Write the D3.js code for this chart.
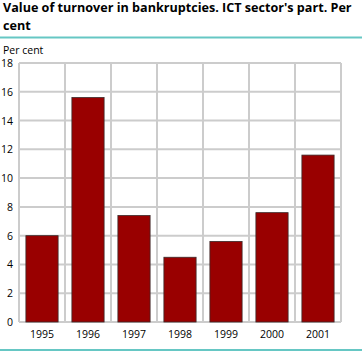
<!DOCTYPE html>
<html>
<head>
<meta charset="utf-8">
<script src="https://cdn.jsdelivr.net/npm/d3@7"></script>
<style>
  body { margin: 0; background: #fff; }
  text { font-family: "Open Sans", "DejaVu Sans", sans-serif; }
</style>
</head>
<body>
<div id="canvas"></div>
<script>
"use strict"

/* Data */
let years = ["1995", "1996", "1997", "1998", "1999", "2000", "2001"];
let values = [6.0, 15.6, 7.4, 4.5, 5.6, 7.6, 11.6];
let yTicks = [0, 2, 4, 6, 8, 10, 12, 14, 16, 18];

/* drawing size */
let svgWidth = 362;
let svgHeight = 351;
let leftMargin = 19
let rightMargin = 21
let topMargin = 63
let bottomMargin = 29

let svg = d3.select("#canvas")
    .append("svg")
    .attr("width", svgWidth)
    .attr("height", svgHeight);

/* title, two lines */
let titleLines = ["Value of turnover in bankruptcies. ICT sector's part. Per", "cent"];
for (let i = 0; i < titleLines.length; i++) {
    svg.append("text")
        .attr("x", 3)
        .attr("y", 12.3 + i * 17.2)
        .attr("font-size", "12.6px")
        .attr("font-weight", "bold")
        .attr("fill", "#000")
        .text(titleLines[i]);
}

/* teal rules top and bottom */
svg.append("rect")
    .attr("x", 0).attr("y", 36.5)
    .attr("width", svgWidth).attr("height", 2)
    .attr("fill", "#66c7c4");
svg.append("rect")
    .attr("x", 0).attr("y", 349)
    .attr("width", svgWidth).attr("height", 2)
    .attr("fill", "#66c7c4");

/* unit label */
svg.append("text")
    .attr("x", 3)
    .attr("y", 54)
    .attr("font-size", "10.5px")
    .text("Per cent");

let xScale = d3.scaleBand()
    .domain(years)
    .range([leftMargin, svgWidth - rightMargin])
    .paddingInner(0.3)
    .paddingOuter(0.15);

let yScale = d3.scaleLinear()
    .domain([0, 18])
    .range([svgHeight - bottomMargin, topMargin]);

/* horizontal gridlines */
svg.selectAll(".hgrid")
    .data(yTicks)
    .join("line")
    .attr("class", "hgrid")
    .attr("x1", leftMargin)
    .attr("x2", svgWidth - rightMargin)
    .attr("y1", d => yScale(d))
    .attr("y2", d => yScale(d))
    .attr("stroke", "#cccccc")
    .attr("stroke-width", 2);

/* vertical gridlines at band edges */
let edges = d3.range(years.length + 1).map(i => leftMargin + i * (svgWidth - rightMargin - leftMargin) / years.length);
svg.selectAll(".vgrid")
    .data(edges)
    .join("line")
    .attr("class", "vgrid")
    .attr("x1", d => d)
    .attr("x2", d => d)
    .attr("y1", yScale(18))
    .attr("y2", yScale(0))
    .attr("stroke", "#cccccc")
    .attr("stroke-width", 2);

/* bars */
svg.selectAll(".bar")
    .data(values)
    .join("rect")
    .attr("class", "bar")
    .attr("x", (d, i) => xScale(years[i]))
    .attr("y", d => yScale(d))
    .attr("width", xScale.bandwidth())
    .attr("height", d => yScale(0) - yScale(d))
    .attr("fill", "#990000")
    .attr("stroke", "#3a2a2a")
    .attr("stroke-width", 0.8);

/* y tick labels */
for (let i = 0; i < yTicks.length; i++) {
    svg.append("text")
        .attr("x", 13)
        .attr("y", yScale(yTicks[i]) + 4)
        .attr("text-anchor", "end")
        .attr("font-size", "10.5px")
        .text(yTicks[i]);
}

/* x tick labels */
for (let i = 0; i < years.length; i++) {
    svg.append("text")
        .attr("x", xScale(years[i]) + xScale.bandwidth() / 2)
        .attr("y", svgHeight - bottomMargin + 16)
        .attr("text-anchor", "middle")
        .attr("font-size", "10.5px")
        .text(years[i]);
}
</script>
</body>
</html>
